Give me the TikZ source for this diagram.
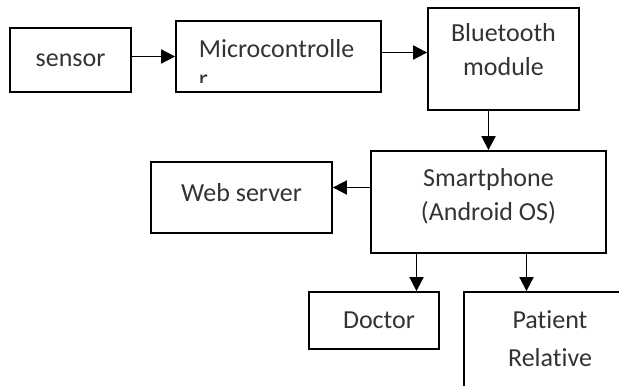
\documentclass[tikz,border=0pt]{standalone}
\usepackage{fontspec}
\setmainfont{Carlito}[Ligatures=NoCommon]
\usetikzlibrary{arrows.meta}
% lift a text without changing its box
\newcommand{\lift}[2]{\raisebox{#1}[\height][\depth]{#2}}

\begin{document}
\begin{tikzpicture}[x=0.5pt,y=-0.5pt,>={Triangle[length=7pt,width=7pt]},line width=0.9pt,
  box/.style={draw,line width=0.9pt,align=center,inner sep=0pt,text=black!80,font=\fontsize{13}{17}\selectfont}]
  \useasboundingbox (0,0) rectangle (619,385);
  \node (sensor) [box,minimum width=60.5pt,minimum height=32pt] at (70.5,60) {sensor};
  \node (mcu) [box,minimum width=102.5pt,minimum height=35.5pt] at (278.5,56.5) {};
  \begin{scope}
    \clip (176,21) rectangle (381,82);
    \node (mcutext) [anchor=north west,align=left,inner sep=0pt,text=black!80,
      font=\fontsize{13}{15}\selectfont] at (198,39) {Microcontrolle\\r};
  \end{scope}
  \node (bt) [box,minimum width=75.5pt,minimum height=51pt] at (503.5,59)
    {\lift{3.5pt}{\begin{tabular}{@{}c@{}}Bluetooth\\module\end{tabular}}};
  \node (phone) [box,minimum width=117.5pt,minimum height=51pt] at (488.5,202)
    {\lift{2.5pt}{\begin{tabular}{@{}c@{}}Smartphone\\(Android OS)\end{tabular}}};
  \node (web) [box,minimum width=90.5pt,minimum height=35.5pt] at (241.5,197.5) {\lift{2.5pt}{Web server}};
  \node (doc) [box,minimum width=65pt,minimum height=28.5pt] at (374,320.5) {\hspace{5pt}Doctor};
  \node (rel) [box,minimum width=86pt,minimum height=52pt,font=\fontsize{13}{19}\selectfont] at (550,344)
    {\lift{2pt}{\begin{tabular}{@{}c@{}}Patient\\Relative\end{tabular}}};
  \draw[->] (sensor.east |- mcu.west) -- (mcu.west);
  \draw[->] ([yshift=2pt]mcu.east) -- ([yshift=2pt]mcu.east -| bt.west);
  \draw[->] (phone.north |- bt.south) -- (phone.north);
  \draw[->] ([yshift=5pt]web.east -| phone.west) -- ([yshift=5pt]web.east);
  \draw[->] ([xshift=-36pt]phone.south) -- ([xshift=-36pt]phone.south |- doc.north);
  \draw[->] ([xshift=19pt]phone.south) -- ([xshift=19pt]phone.south |- rel.north);
\end{tikzpicture}
\end{document}
